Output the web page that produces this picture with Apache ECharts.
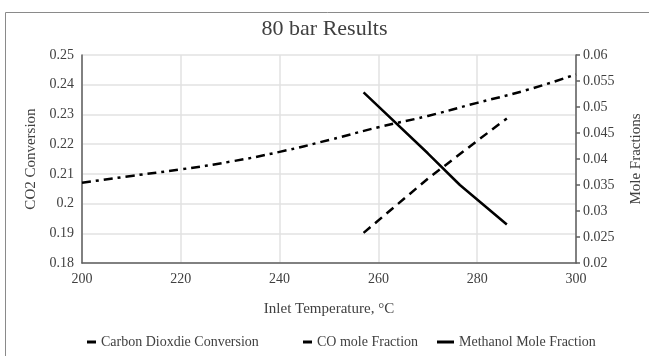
<!DOCTYPE html>
<html>
<head>
<meta charset="utf-8">
<title>80 bar Results</title>
<script src="https://cdn.jsdelivr.net/npm/echarts@6/dist/echarts.min.js"></script>
<style>
  html, body { margin: 0; padding: 0; background: #fff; }
  #chart { width: 649px; height: 356px; }
</style>
</head>
<body>
<div id="chart"></div>
<script>
// 数据
const co2Temps = [200, 210, 220, 230, 240, 250, 260, 270, 280, 290, 300]
const co2Conv = [0.2070, 0.2093, 0.2115, 0.2141, 0.2174, 0.2214, 0.2257, 0.2295, 0.2339, 0.2382, 0.2435]
const coTemps = [257, 270, 280, 286]
const coFrac = [0.0258, 0.0362, 0.0435, 0.0478]
const meohTemps = [257, 270, 276.5, 286]
const meohFrac = [0.0528, 0.0411, 0.0350, 0.0274]
const seriesNames = ['Carbon Dioxdie Conversion', 'CO mole Fraction', 'Methanol Mole Fraction']

const font = 'Liberation Serif'
const textColor = '#404040'
const axisColor = '#5f5f5f'

function pairs(xs, ys) {
  return xs.map((x, i) => [x, ys[i]])
}

const chart = echarts.init(document.getElementById('chart'))

const legendBase = {
  top: 330,
  itemHeight: 3,
  icon: 'rect',
  textStyle: { fontFamily: font, fontSize: 14, color: textColor }
}

chart.setOption({
  animation: false,
  color: ['#000', '#000', '#000'],
  title: {
    text: '80 bar Results',
    left: 'center',
    top: 13,
    textStyle: { fontFamily: font, fontSize: 22, fontWeight: 'normal', color: textColor }
  },
  // outer chart border
  graphic: [{
    type: 'rect',
    shape: { x: 5.5, y: 12.5, width: 700, height: 400 },
    style: { fill: 'none', stroke: '#8a8a8a', lineWidth: 1 },
    silent: true
  }],
  legend: [
    Object.assign({}, legendBase, { left: 82, itemWidth: 9, data: [seriesNames[0]] }),
    Object.assign({}, legendBase, { left: 298, itemWidth: 9, data: [seriesNames[1]] }),
    Object.assign({}, legendBase, { left: 432, itemWidth: 17, data: [seriesNames[2]] })
  ],
  grid: {
    left: 82,
    right: 73,
    top: 55,
    bottom: 93,
    containLabel: false,
    outerBoundsMode: 'none'
  },
  xAxis: {
    type: 'value',
    min: 200,
    max: 300,
    interval: 20,
    name: 'Inlet Temperature, °C',
    nameLocation: 'middle',
    nameGap: 39,
    nameTextStyle: { fontFamily: font, fontSize: 15, color: textColor },
    axisLine: { show: true, lineStyle: { color: axisColor, width: 1.5 } },
    axisTick: { show: false },
    axisLabel: { margin: 9, fontFamily: font, fontSize: 14, color: textColor },
    splitLine: { show: true, lineStyle: { color: '#e2e2e2', width: 1.5 } }
  },
  yAxis: [{
    type: 'value',
    position: 'left',
    min: 0.18,
    max: 0.25,
    interval: 0.01,
    name: 'CO2 Conversion',
    nameLocation: 'middle',
    nameRotate: 90,
    nameGap: 42,
    nameTextStyle: { fontFamily: font, fontSize: 15, color: textColor },
    axisLine: { show: true, lineStyle: { color: axisColor, width: 1.5 } },
    axisTick: { show: false },
    axisLabel: { margin: 8, fontFamily: font, fontSize: 14, color: textColor },
    splitLine: { show: true, lineStyle: { color: '#e2e2e2', width: 1.5 } }
  }, {
    type: 'value',
    position: 'right',
    min: 0.02,
    max: 0.06,
    interval: 0.005,
    name: 'Mole Fractions',
    nameLocation: 'middle',
    nameRotate: 90,
    nameGap: 53,
    nameTextStyle: { fontFamily: font, fontSize: 15, color: textColor },
    axisLine: { show: true, lineStyle: { color: axisColor, width: 1.5 } },
    axisTick: { show: true, inside: false, length: 4, lineStyle: { color: axisColor, width: 1.5 } },
    axisLabel: { margin: 7, fontFamily: font, fontSize: 14, color: textColor },
    splitLine: { show: false }
  }],
  series: [{
    name: seriesNames[0],
    type: 'line',
    yAxisIndex: 0,
    symbol: 'none',
    smooth: true,
    lineStyle: { color: '#000', width: 2.5, type: [9, 5, 3, 5], cap: 'butt' },
    data: pairs(co2Temps, co2Conv)
  }, {
    name: seriesNames[1],
    type: 'line',
    yAxisIndex: 1,
    symbol: 'none',
    lineStyle: { color: '#000', width: 2.5, type: [9, 6], cap: 'butt' },
    data: pairs(coTemps, coFrac)
  }, {
    name: seriesNames[2],
    type: 'line',
    yAxisIndex: 1,
    symbol: 'none',
    lineStyle: { color: '#000', width: 2.5 },
    data: pairs(meohTemps, meohFrac)
  }]
})
</script>
</body>
</html>
